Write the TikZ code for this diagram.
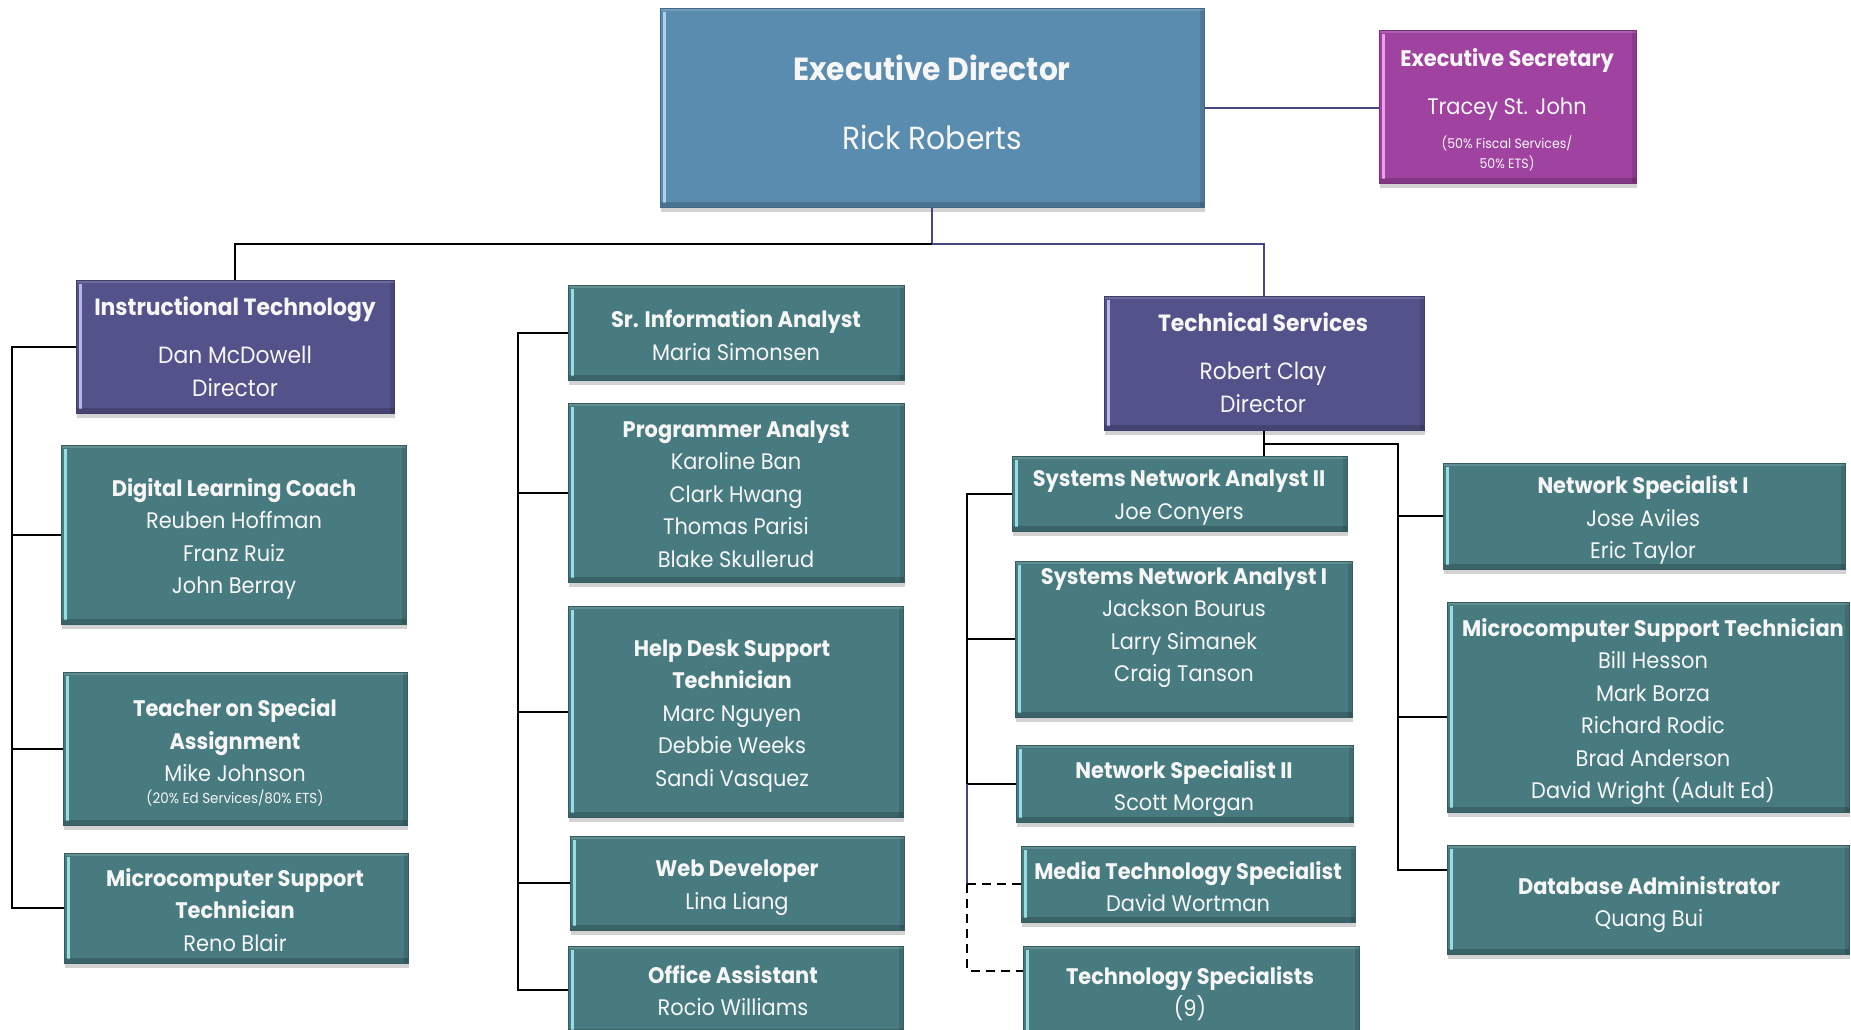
\documentclass[tikz,border=0pt]{standalone}
\usepackage{fontspec}
\setmainfont{Poppins}[FakeStretch=0.93]
\usetikzlibrary{shadows}
\definecolor{edblue}{RGB}{90,140,176}
\definecolor{espurple}{RGB}{160,66,160}
\definecolor{slate}{RGB}{84,82,138}
\definecolor{tealbox}{RGB}{71,123,128}
\definecolor{navyline}{RGB}{70,70,135}
\definecolor{txtwhite}{RGB}{246,246,246}
\definecolor{stripeteal}{RGB}{150,222,228}
\definecolor{stripeslate}{RGB}{185,182,235}
\definecolor{stripeblue}{RGB}{170,210,235}
\definecolor{stripepurple}{RGB}{235,160,235}
\tikzset{
  orgbox/.style 2 args={fill=#1, draw=#1!75!black, line width=1pt, inner sep=0pt,
    drop shadow={opacity=0.35, shadow xshift=1pt, shadow yshift=-5pt},
    path picture={
      \fill[#2] ([xshift=3pt,yshift=-4pt]path picture bounding box.north west) rectangle ([xshift=6pt,yshift=4pt]path picture bounding box.south west);
      \fill[black,opacity=0.18] ([yshift=5pt]path picture bounding box.south west) rectangle (path picture bounding box.south east);
      \fill[black,opacity=0.12] ([xshift=-4pt]path picture bounding box.north east) rectangle (path picture bounding box.south east);
      \fill[white,opacity=0.15] (path picture bounding box.north west) rectangle ([yshift=-3pt]path picture bounding box.north east);
    }},
  tbox/.style={orgbox={tealbox}{stripeteal}},
  sbox/.style={orgbox={slate}{stripeslate}},
  ebox/.style={orgbox={edblue}{stripeblue}},
  pbox/.style={orgbox={espurple}{stripepurple}},
  txt/.style={text=txtwhite, align=center, inner sep=0pt, text depth=0pt, font=\fontsize{22.5}{32.5}\selectfont},
  htxt/.style={text=txtwhite, align=center, inner sep=0pt, text depth=0pt, font=\fontsize{23.5}{33}\selectfont},
  smalltxt/.style={text=txtwhite, align=center, inner sep=0pt, font=\fontsize{14.5}{20}\selectfont},
  conn/.style={line width=2pt, black},
  navyconn/.style={line width=2pt, navyline},
  dconn/.style={line width=2pt, black, dash pattern=on 9pt off 6pt},
}
\begin{document}
\begin{tikzpicture}[x=1pt, y=-1pt]
\useasboundingbox (0,0) rectangle (1851,1029);
\fill[white] (0,0) rectangle (1851,1029);

% boxes
\node[ebox, minimum width=544pt, minimum height=199pt] (ed) at (932,107.5) {};
\node[pbox, minimum width=257pt, minimum height=153pt] (es) at (1507.5,106.5) {};
\node[sbox, minimum width=318pt, minimum height=133pt] (it) at (235,346.5) {};
\node[tbox, minimum width=345pt, minimum height=179pt] (dlc) at (233.5,534.5) {};
\node[tbox, minimum width=344pt, minimum height=153pt] (tosa) at (235,748.5) {};
\node[tbox, minimum width=344pt, minimum height=110pt] (mstl) at (236,908) {};
\node[tbox, minimum width=336pt, minimum height=95pt] (sria) at (736,332.5) {};
\node[tbox, minimum width=336pt, minimum height=179pt] (pa) at (736,492.5) {};
\node[tbox, minimum width=335pt, minimum height=211pt] (hd) at (735.5,711.5) {};
\node[tbox, minimum width=334pt, minimum height=94pt] (wd) at (737,883) {};
\node[tbox, minimum width=335pt, minimum height=88pt] (oa) at (735.5,990) {};
\node[sbox, minimum width=320pt, minimum height=134pt] (ts) at (1264,363) {};
\node[tbox, minimum width=335pt, minimum height=75pt] (sna2) at (1179.5,493.5) {};
\node[tbox, minimum width=337pt, minimum height=156pt] (sna1) at (1183.5,639) {};
\node[tbox, minimum width=337pt, minimum height=77pt] (ns2) at (1184.5,783.5) {};
\node[tbox, minimum width=334pt, minimum height=76pt] (mts) at (1188,884) {};
\node[tbox, minimum width=336pt, minimum height=90pt] (ts9) at (1191,991) {};
\node[tbox, minimum width=402pt, minimum height=106pt] (ns1) at (1644,516) {};
\node[tbox, minimum width=402pt, minimum height=210pt] (mstr) at (1648,707) {};
\node[tbox, minimum width=402pt, minimum height=109pt] (dba) at (1648,899.5) {};

% texts
\node[txt, font=\fontsize{32}{69}\selectfont] (edt) at (932,102.5) {\textbf{Executive Director}\\Rick Roberts};
\node[txt, font=\fontsize{22.5}{48}\selectfont] (est) at (1507,81) {\textbf{Executive Secretary}\\Tracey St. John};
\node[smalltxt, font=\fontsize{13.5}{20}\selectfont] (ests) at (1507,153) {(50\% Fiscal Services/\\50\% ETS)};
\node[htxt] (itt) at (235,346.5) {\textbf{Instructional Technology}\\[15pt]Dan McDowell\\Director};
\node[txt] (dlct) at (234,536) {\textbf{Digital Learning Coach}\\Reuben Hoffman\\Franz Ruiz\\John Berray};
\node[txt] (tosat) at (235,740) {\textbf{Teacher on Special}\\\textbf{Assignment}\\Mike Johnson};
\node[smalltxt] (tosas) at (235,798) {(20\% Ed Services/80\% ETS)};
\node[txt] (mstlt) at (235,909.5) {\textbf{Microcomputer Support}\\\textbf{Technician}\\Reno Blair};
\node[txt] (sriat) at (736,335) {\textbf{Sr. Information Analyst}\\Maria Simonsen};
\node[txt] (pat) at (736,494) {\textbf{Programmer Analyst}\\Karoline Ban\\Clark Hwang\\Thomas Parisi\\Blake Skullerud};
\node[txt] (hdt) at (732,713) {\textbf{Help Desk Support}\\\textbf{Technician}\\Marc Nguyen\\Debbie Weeks\\Sandi Vasquez};
\node[txt] (wdt) at (737,884.5) {\textbf{Web Developer}\\Lina Liang};
\node[txt] (oat) at (733,990.5) {\textbf{Office Assistant}\\Rocio Williams};
\node[htxt] (tst) at (1263,363) {\textbf{Technical Services}\\[15pt]Robert Clay\\Director};
\node[txt] (sna2t) at (1179,494.5) {\textbf{Systems Network Analyst II}\\Joe Conyers};
\node[txt] (sna1t) at (1184,624.5) {\textbf{Systems Network Analyst I}\\Jackson Bourus\\Larry Simanek\\Craig Tanson};
\node[txt] (ns2t) at (1184,785.5) {\textbf{Network Specialist II}\\Scott Morgan};
\node[txt] (mtst) at (1188,886.5) {\textbf{Media Technology Specialist}\\David Wortman};
\node[txt] (ts9t) at (1190,991.5) {\textbf{Technology Specialists}\\(9)};
\node[txt] (ns1t) at (1643,517) {\textbf{Network Specialist I}\\Jose Aviles\\Eric Taylor};
\node[txt] (mstrt) at (1653,708.5) {\textbf{Microcomputer Support Technician}\\Bill Hesson\\Mark Borza\\Richard Rodic\\Brad Anderson\\David Wright (Adult Ed)};
\node[txt] (dbat) at (1649,901.5) {\textbf{Database Administrator}\\Quang Bui};

% connectors
\coordinate (jtop) at (932,244);
\draw[navyconn] (ed.east) -- (es.west |- ed.east);
\draw[navyconn] (ed.south) -- (jtop) -| (ts.north);
\draw[conn] (jtop) -| (it.north);

\coordinate (bl) at (12,0);
\draw[conn] (it.west) -- (it.west -| bl) |- (mstl.west);
\draw[conn] (dlc.west -| bl) -- (dlc.west);
\draw[conn] (tosa.west -| bl) -- (tosa.west);

\coordinate (bm) at (518,0);
\draw[conn] (sria.west) -- (sria.west -| bm) |- (oa.west);
\draw[conn] (pa.west -| bm) -- (pa.west);
\draw[conn] (hd.west -| bm) -- (hd.west);
\draw[conn] (wd.west -| bm) -- (wd.west);

\coordinate (jts) at (1264,444);
\draw[conn] (ts.south) -- (sna2.north -| ts.south);
\coordinate (br) at (1398,0);
\coordinate (dbain) at ([yshift=-25pt]dba.north west);
\draw[conn] (jts) -| (br |- dbain) -- (dbain);
\draw[conn] (ns1.west -| br) -- (ns1.west);
\draw[conn] ([yshift=-10pt]mstr.west -| br) -- ([yshift=-10pt]mstr.west);

\coordinate (bt) at (967,0);
\coordinate (ts9in) at ([yshift=-25pt]ts9.north west);
\draw[conn] (sna2.west) -- (sna2.west -| bt) |- (ns2.west);
\draw[conn] (sna1.west -| bt) -- (sna1.west);
\draw[navyconn, line width=1.3pt] (ns2.west -| bt) -- (mts.west -| bt);
\draw[dconn] (mts.west -| bt) -- (mts.west);
\draw[dconn] (mts.west -| bt) |- (ts9in);
\end{tikzpicture}
\end{document}
